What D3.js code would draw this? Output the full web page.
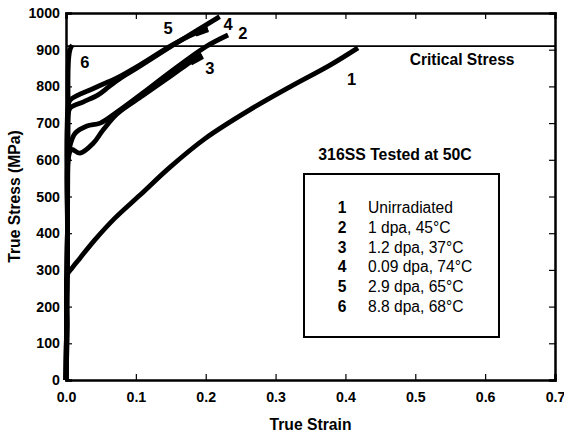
<!DOCTYPE html>
<html lang="en">
<head>
<meta charset="UTF-8">
<title>316SS True Stress vs True Strain</title>
<style>
  body { margin: 0; background: #fff; }
  text { font-family: Arial, "Liberation Sans", sans-serif; fill: #000; }
</style>
</head>
<body>
<svg width="564" height="432"></svg>
<script src="https://d3js.org/d3.v7.min.js"></script>
<script>

    // curve data: [true strain, true stress (MPa)]
    var curve1 = [[0, 0], [0.002, 150], [0.002, 286], [0.0086, 305], [0.02, 332], [0.041, 381], [0.07, 441],
                  [0.106, 504], [0.149, 580], [0.2, 659], [0.263, 736], [0.32, 798], [0.378, 858], [0.418, 905]];
    var curve2 = [[0, 0], [0.002, 400], [0.003, 600], [0.006, 640], [0.013, 672], [0.03, 692], [0.049, 700],
                  [0.073, 730], [0.11, 782], [0.15, 840], [0.2, 908], [0.232, 940]];
    var curve3 = [[0, 0], [0.002, 400], [0.003, 600], [0.008, 628], [0.02, 618], [0.039, 645], [0.053, 681],
                  [0.073, 725], [0.11, 775], [0.15, 828], [0.178, 866], [0.195, 884]];
    var curve4 = [[0, 0], [0.002, 400], [0.003, 720], [0.006, 741], [0.025, 758], [0.046, 777], [0.062, 800],
                  [0.08, 825], [0.1, 848], [0.153, 912], [0.22, 990]];
    var curve5 = [[0, 0], [0.002, 400], [0.003, 745], [0.006, 763], [0.04, 795], [0.06, 812], [0.073, 823],
                  [0.1, 852], [0.153, 914], [0.185, 945], [0.203, 957]];
    var curve6 = [[0, 0], [0.002, 400], [0.003, 700], [0.003, 840], [0.004, 880], [0.006, 902], [0.009, 913]];

    var curveNames = ["1", "2", "3", "4", "5", "6"];
    var legendText = ["Unirradiated", "1 dpa, 45°C", "1.2 dpa, 37°C", "0.09 dpa, 74°C", "2.9 dpa, 65°C", "8.8 dpa, 68°C"];
    // where each curve number sits on the plot
    var labelStrain = [0.409, 0.253, 0.206, 0.232, 0.146, 0.027];
    var labelStress = [820, 945, 850, 970, 959, 866];

    var criticalStress = 910;
    var xTicks = [0, 0.1, 0.2, 0.3, 0.4, 0.5, 0.6, 0.7];
    var yTicks = [0, 100, 200, 300, 400, 500, 600, 700, 800, 900, 1000];

    var curves = [curve1, curve2, curve3, curve4, curve5, curve6];

    var margin = {top: 13, right: 9, bottom: 52, left: 66};
    var svg = d3.select("svg");
    var width = +svg.attr("width") - margin.left - margin.right;
    var height = +svg.attr("height") - margin.top - margin.bottom;

    var x = d3.scaleLinear().domain([0, 0.7]).range([0, width]);
    var y = d3.scaleLinear().domain([0, 1000]).range([height, 0]);

    var g = svg.append("g").attr("transform", "translate(" + margin.left + "," + margin.top + ")");

    // axes, ticks pointing inward on all four sides
    var bottomAxis = g.append("g").attr("transform", "translate(0," + height + ")")
        .call(d3.axisBottom(x).tickValues(xTicks).tickSize(-6).tickPadding(12).tickFormat(d3.format(".1f")));
    var leftAxis = g.append("g")
        .call(d3.axisLeft(y).tickValues(yTicks).tickSize(-6).tickPadding(6).tickFormat(d3.format("d")));
    var topAxis = g.append("g")
        .call(d3.axisTop(x).tickValues(xTicks).tickSize(-6).tickFormat(""));
    var rightAxis = g.append("g").attr("transform", "translate(" + width + ",0)")
        .call(d3.axisRight(y).tickValues(yTicks).tickSize(-6).tickFormat(""));

    [bottomAxis, leftAxis, topAxis, rightAxis].forEach(function(a) {
        a.select(".domain").attr("stroke-width", 2.5);
        a.selectAll(".tick line").attr("stroke-width", 1.2);
        a.selectAll("text").attr("font-size", 14.2).attr("font-weight", "bold")
            .attr("font-family", "Arial, 'Liberation Sans', sans-serif").attr("fill", "#000");
    });

    // critical stress line
    g.append("line")
        .attr("x1", 0).attr("x2", width)
        .attr("y1", y(criticalStress)).attr("y2", y(criticalStress))
        .attr("stroke", "#000").attr("stroke-width", 1.8);
    g.append("text")
        .attr("x", x(0.567)).attr("y", y(criticalStress) + 19)
        .attr("text-anchor", "middle").attr("font-size", 15.6).attr("font-weight", "bold")
        .text("Critical Stress");

    // stress-strain curves
    var line = d3.line()
        .x(function(d) { return x(d[0]); })
        .y(function(d) { return y(d[1]); })
        .curve(d3.curveCatmullRom.alpha(0.5));

    g.selectAll(".curve")
        .data(curves)
        .enter()
        .append("path")
        .attr("class", "curve")
        .attr("d", line)
        .attr("fill", "none")
        .attr("stroke", "#000")
        .attr("stroke-width", 4.8)
        .attr("stroke-linejoin", "round");

    // heavier stubs where curves 3 and 5 end
    [curve3, curve5].forEach(function(c) {
        g.append("path")
            .attr("d", line(c.slice(-2)))
            .attr("fill", "none").attr("stroke", "#000").attr("stroke-width", 7);
    });

    // curve numbers
    g.selectAll(".num")
        .data(curveNames)
        .enter()
        .append("text")
        .attr("class", "num")
        .attr("x", function(d, i) { return x(labelStrain[i]); })
        .attr("y", function(d, i) { return y(labelStress[i]); })
        .attr("dy", "0.35em")
        .attr("text-anchor", "middle")
        .attr("font-size", 16.5).attr("font-weight", "bold")
        .text(function(d) { return d; });

    // legend
    svg.append("text")
        .attr("x", 395).attr("y", 154).attr("dy", "0.35em")
        .attr("text-anchor", "middle").attr("font-size", 15.8).attr("font-weight", "bold")
        .text("316SS Tested at 50C");

    svg.append("rect")
        .attr("x", 304).attr("y", 174).attr("width", 195).attr("height", 163)
        .attr("fill", "#fff").attr("stroke", "#000").attr("stroke-width", 2);

    var rows = svg.selectAll(".row")
        .data(curveNames)
        .enter()
        .append("g")
        .attr("class", "row")
        .attr("transform", function(d, i) { return "translate(0," + (207.3 + i * 19.9) + ")"; });
    rows.append("text")
        .attr("x", 342).attr("dy", "0.35em").attr("text-anchor", "middle")
        .attr("font-size", 15.6).attr("font-weight", "bold")
        .text(function(d) { return d; });
    rows.append("text")
        .attr("x", 368).attr("dy", "0.35em")
        .attr("font-size", 15.6)
        .text(function(d, i) { return legendText[i]; });

    // axis titles
    svg.append("text")
        .attr("x", margin.left + width / 2).attr("y", 425).attr("dy", "0.35em")
        .attr("text-anchor", "middle").attr("font-size", 15.7).attr("font-weight", "bold")
        .text("True Strain");
    svg.append("text")
        .attr("transform", "translate(14," + (margin.top + height / 2) + ") rotate(-90)")
        .attr("dy", "0.35em")
        .attr("text-anchor", "middle").attr("font-size", 15.7).attr("font-weight", "bold")
        .text("True Stress (MPa)");

</script>
</body>
</html>
